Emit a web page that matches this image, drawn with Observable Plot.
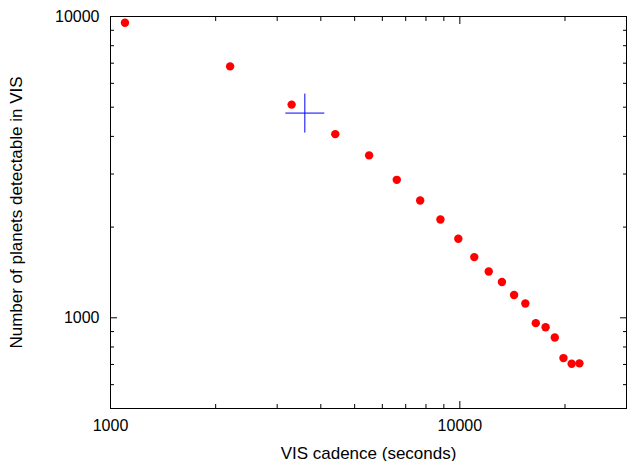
<!DOCTYPE html>
<html>
<head>
<meta charset="utf-8">
<script src="https://cdn.jsdelivr.net/npm/d3@7"></script>
<script src="https://cdn.jsdelivr.net/npm/@observablehq/plot@0.6"></script>
<style>
  html, body { margin: 0; padding: 0; background: #fff; }
</style>
</head>
<body>
<div id="chart"></div>
<script>
const cadence = [1100, 2200, 3300, 4400, 5500, 6600, 7700, 8800, 9900, 11000,
                 12100, 13200, 14300, 15400, 16500, 17600, 18700, 19800, 20900, 22000];
const planets = [9530, 6830, 5100, 4070, 3460, 2870, 2450, 2120, 1830, 1590,
                 1425, 1315, 1190, 1115, 960, 930, 860, 735, 704, 706];
const refCadence = [3600];
const refPlanets = [4780];

const xMajor = [1000, 10000];
const xMinor = [2000, 3000, 4000, 5000, 6000, 7000, 8000, 9000, 20000, 30000];
const yMajor = [1000, 10000];
const yMinor = [600, 700, 800, 900, 2000, 3000, 4000, 5000, 6000, 7000, 8000, 9000];

const points = cadence.map((c, i) => ({c, p: planets[i]}));
const ref = refCadence.map((c, i) => ({c, p: refPlanets[i]}));

const crossSymbol = {
  draw(context, size) {
    const r = Math.sqrt(size / Math.PI);
    context.moveTo(-r, 0); context.lineTo(r, 0);
    context.moveTo(0, -r); context.lineTo(0, r);
  }
};

const blank = () => "";
const tickOpts = {tickFormat: blank, label: null, stroke: "black", strokeWidth: 1};

const chart = Plot.plot({
  width: 628,
  height: 461,
  marginLeft: 110,
  marginRight: 2,
  marginTop: 16,
  marginBottom: 53,
  style: {fontFamily: "'Liberation Sans', Arial, sans-serif", fontSize: "16px", color: "black", background: "white"},
  x: {type: "log", domain: [1000, 30000]},
  y: {type: "log", domain: [500, 10000]},
  marks: [
    Plot.frame({stroke: "black", strokeWidth: 1}),
    // inward ticks, all four sides
    Plot.axisX(xMajor, {anchor: "bottom", tickSize: -7, ...tickOpts}),
    Plot.axisX(xMinor, {anchor: "bottom", tickSize: -4, ...tickOpts}),
    Plot.axisX(xMajor, {anchor: "top", tickSize: -7, ...tickOpts}),
    Plot.axisX(xMinor, {anchor: "top", tickSize: -4, ...tickOpts}),
    Plot.axisY(yMajor, {anchor: "left", tickSize: -7, ...tickOpts}),
    Plot.axisY(yMinor, {anchor: "left", tickSize: -4, ...tickOpts}),
    Plot.axisY(yMajor, {anchor: "right", tickSize: -7, ...tickOpts}),
    Plot.axisY(yMinor, {anchor: "right", tickSize: -4, ...tickOpts}),
    // tick labels
    Plot.axisX(xMajor, {anchor: "bottom", tickSize: 0, tickPadding: 11, tickFormat: d => String(d), label: null, fontSize: 16}),
    Plot.axisY(yMajor, {anchor: "left", tickSize: 0, tickPadding: 11, tickFormat: d => String(d), label: null, fontSize: 16}),
    // axis titles
    Plot.axisX([], {anchor: "bottom", tickSize: 0, label: "VIS cadence (seconds)", labelAnchor: "center",
      labelArrow: "none", labelOffset: 50, fontSize: 17}),
    Plot.axisY([], {anchor: "left", tickSize: 0, label: "Number of planets detectable in VIS", labelAnchor: "center",
      labelArrow: "none", labelOffset: 101, fontSize: 17}),
    Plot.dot(points, {x: "c", y: "p", r: 4.2, fill: "#ff0000", stroke: "none"}),
    Plot.dot(ref, {x: "c", y: "p", r: 19.5, symbol: crossSymbol, stroke: "#0000ff", strokeWidth: 1, fill: "none"})
  ]
});

document.getElementById("chart").appendChild(chart);
</script>
</body>
</html>
